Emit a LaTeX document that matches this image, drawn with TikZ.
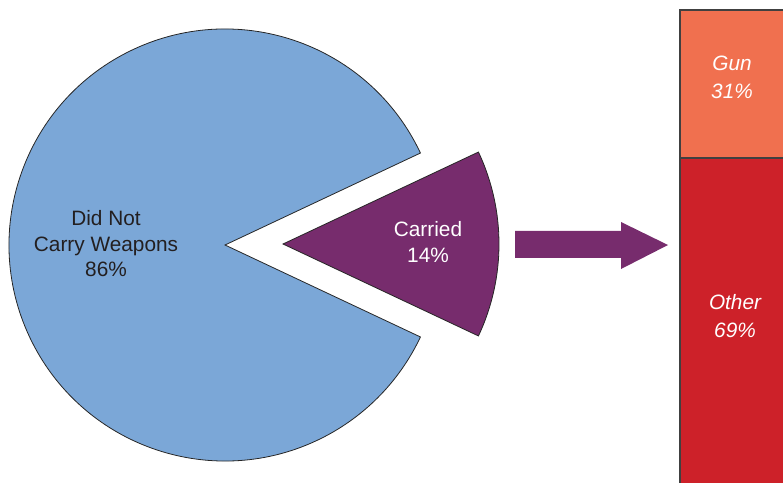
\documentclass[tikz,border=0pt]{standalone}
\usepackage{fontspec}
\setmainfont{Liberation Sans}
\definecolor{pieblue}{HTML}{7BA7D7}
\definecolor{piepurple}{HTML}{772C6D}
\definecolor{gunc}{HTML}{F0704F}
\definecolor{otherc}{HTML}{CD2129}
\definecolor{txtdark}{HTML}{231F20}
\begin{document}
\begin{tikzpicture}[x=1pt,y=1pt,
  slice/.style={draw=black!85,line width=0.8pt,line join=miter},
  lbl/.style={align=center,font=\fontsize{20.8}{25.5}\selectfont,inner sep=0pt},
  barlbl/.style={align=center,font=\fontsize{20.8}{28}\selectfont\itshape,text=white,inner sep=0pt},
  barseg/.style={draw=black!75,line width=1.1pt}]
\useasboundingbox (0,0) rectangle (783,482);
\clip (0,0) rectangle (783,482);
% big slice
\coordinate (pc) at (225,237);
\draw[slice,fill=pieblue] (pc) -- ++(25.2:216) arc[start angle=25.2,end angle=334.8,radius=216] -- cycle;
% carried slice
\coordinate (cc) at (283,238);
\draw[slice,fill=piepurple] (cc) -- ++(-25.2:216) arc[start angle=-25.2,end angle=25.2,radius=216] -- cycle;
% labels
\node[lbl,text=txtdark] (dnc) at (106,238) {Did Not\\Carry Weapons\\86\%};
\node[lbl,text=white] (car) at (428,240) {Carried\\14\%};
% block arrow
\fill[piepurple] (515,251) -- (621,251) -- (621,260) -- (668,237) -- (621,213) -- (621,224) -- (515,224) -- cycle;
% bar
\draw[barseg,fill=otherc] (680,-5) rectangle (800,324);
\draw[barseg,fill=gunc] (680,324) rectangle (800,472);
\node[barlbl] (gun) at (732,405) {Gun\\31\%};
\node[barlbl] (oth) at (735,166) {Other\\69\%};
\end{tikzpicture}
\end{document}
